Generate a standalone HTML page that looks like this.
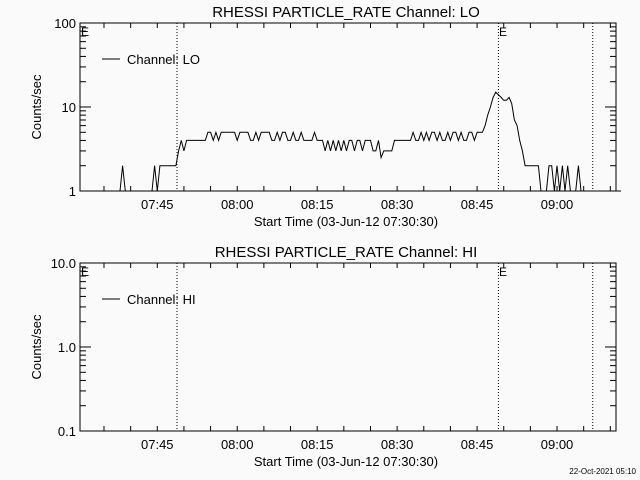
<!DOCTYPE html>
<html><head><meta charset="utf-8"><style>
body{margin:0;background:#fafafa}
svg{display:block}
text{font-family:"Liberation Sans",sans-serif;fill:#000}
</style></head><body>
<svg id="c" width="640" height="480" viewBox="0 0 640 480" xmlns="http://www.w3.org/2000/svg"></svg>
<script>
const loValues = [
0,0,0,0,0,0,0,0,0,0,0,0,0,0,0,0,
2,0,
0,0,0,0,0,0,0,0,0,0,
2,0,2,2,2,2,2,2,2,
3,4,3,
4,4,4,4,4,4,4,4,
5,5,4,5,4,5,5,5,5,5,5,4,5,5,5,5,4,4,5,4,5,5,5,5,4,4,5,4,5,5,4,4,5,4,4,5,4,4,4,4,5,4,4,4,
3,4,3,4,3,4,3,4,3,4,4,3,4,4,3,4,4,4,3,3,4,2.5,3,3,3,3,4,4,
4,4,4,4,4,5,4,4,5,4,5,4,5,5,4,5,4,4,5,4,5,5,4,5,4,4,5,5,4,5,5,
5,6,8,10,13,15,14,13,12,12,13,11,7,6,4,3,
2,2,2,2,2,2,
0,0,0,2,2,0,2,0,2,0,2,0,0,0,2,0,0,0,0,0,0,0,0,0,0,0,0,0,0,0,0
];
const hiValues = [];
const xTickLabels = ["07:45","08:00","08:15","08:30","08:45","09:00"];
const xTickMinutes = [14.5,29.5,44.5,59.5,74.5,89.5];
const loYTicks = ["1","10","100"];
const hiYTicks = ["0.1","1.0","10.0"];
const markerMinutes = [18.2,78.5,96.2];
const stepMin = 0.5;

const NS="http://www.w3.org/2000/svg";
const svg=document.getElementById('c');
function el(tag,attrs,parent,text){const e=document.createElementNS(NS,tag);for(const k in attrs)e.setAttribute(k,attrs[k]);if(text!==undefined)e.textContent=text;(parent||svg).appendChild(e);return e;}
const X0=80,X1=616,PXMIN=5.33;
const xs=m=>X0+m*PXMIN;

function panel(top,name,chan,vals,ymin,yticks){
  const bot=top+168, dec=84;
  const g=el('g',{},svg);
  
  
  const ys=v=>bot-Math.log10(v/ymin)*dec;
  const t=el('text',{x:346,y:top-6,'text-anchor':'middle','font-size':15},g,'RHESSI PARTICLE_RATE Channel: '+chan);
  
  const box=el('rect',{x:X0,y:top,width:X1-X0,height:bot-top,fill:'none',stroke:'#000','stroke-width':1},g);
  
  for(let m=4.5;m<100.5;m+=5){const x=xs(m);
    el('line',{x1:x,x2:x,y1:bot,y2:bot-5,stroke:'#000'},g);
    el('line',{x1:x,x2:x,y1:top,y2:top+5,stroke:'#000'},g);}
  xTickLabels.forEach((l,i)=>{const tt=el('text',{x:xs(xTickMinutes[i]),y:bot+18,'text-anchor':'middle','font-size':13},g,l);
    });
  const xl=el('text',{x:346,y:bot+35,'text-anchor':'middle','font-size':13},g,'Start Time (03-Jun-12 07:30:30)');
  
  const yl=el('text',{x:0,y:0,'text-anchor':'middle','font-size':13,transform:`translate(41,${(top+bot)/2}) rotate(-90)`},g,'Counts/sec');
  
  for(let d=0;d<2;d++){for(let k=1;k<=10;k++){const v=ymin*Math.pow(10,d)*k;const y=ys(v);
    const len=(k===1||k===10)?11:6;
    el('line',{x1:X0,x2:X0+len,y1:y,y2:y,stroke:'#000'},g);
    el('line',{x1:X1,x2:X1-len,y1:y,y2:y,stroke:'#000'},g);}}
  yticks.forEach((l,i)=>{const tt=el('text',{x:76,y:ys(ymin*Math.pow(10,i))+5,'text-anchor':'end','font-size':13},g,l);
    });
  markerMinutes.forEach(m=>{const ln=el('line',{x1:xs(m),x2:xs(m),y1:top,y2:bot,stroke:'#000','stroke-dasharray':'1,2'},g);
    });
  el('text',{x:81,y:top+13,'font-size':12},g,'E');
  el('text',{x:499,y:top+13,'font-size':12},g,'E');
  const lg=el('g',{},g);
  el('line',{x1:102,x2:120,y1:top+36,y2:top+36,stroke:'#000'},lg);
  el('text',{x:127,y:top+41,'font-size':13},lg,'Channel: '+chan);
  if(vals.length){let d='';vals.forEach((v,i)=>{const y=Math.min(bot,Math.max(top,v>0?ys(v):bot));d+=(i?'L':'M')+xs(i*stepMin).toFixed(1)+','+y.toFixed(1);});
    const p=el('path',{d:d,fill:'none',stroke:'#000','stroke-width':1},g);
    }
}
panel(23,'lo-channel','LO',loValues,1,loYTicks);
panel(263,'hi-channel','HI',hiValues,0.1,hiYTicks);
const f=el('text',{x:636,y:474,'text-anchor':'end','font-size':8},svg,'22-Oct-2021 05:10');

</script>
</body></html>
